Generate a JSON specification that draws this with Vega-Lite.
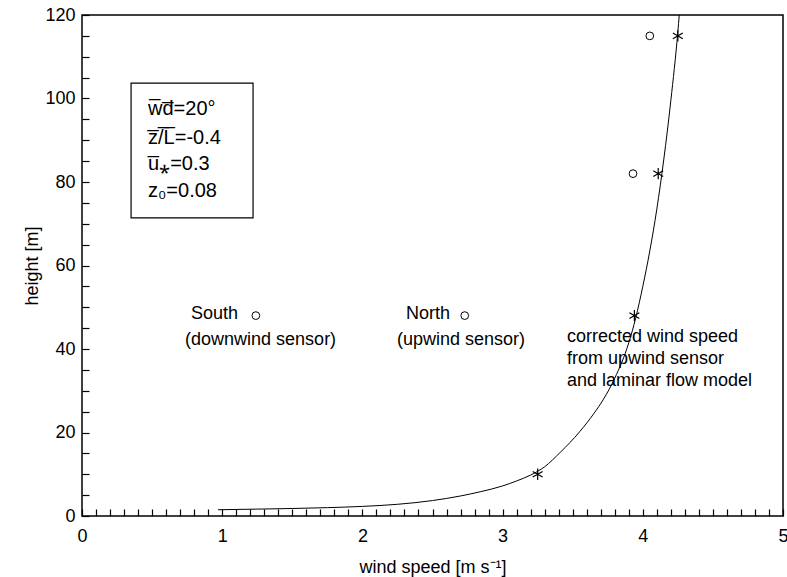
{
  "$schema": "https://vega.github.io/schema/vega-lite/v6.json",
  "width": 701,
  "height": 501,
  "autosize": {"type": "none"},
  "padding": {"left": 82, "top": 15, "right": 4, "bottom": 61},
  "background": "white",
  "config": {
    "view": {"stroke": "black", "strokeWidth": 1.5}
  },
  "datasets": {
    "curve": [
      {"u": 0.97, "z": 1.5},
      {"u": 1.25, "z": 1.65},
      {"u": 1.5, "z": 1.8},
      {"u": 1.75, "z": 2.0},
      {"u": 2.0, "z": 2.3},
      {"u": 2.25, "z": 2.8},
      {"u": 2.5, "z": 3.7},
      {"u": 2.7, "z": 4.8},
      {"u": 2.84, "z": 5.8},
      {"u": 3.0, "z": 7.2},
      {"u": 3.1, "z": 8.4},
      {"u": 3.2, "z": 9.8},
      {"u": 3.3, "z": 11.8},
      {"u": 3.41, "z": 15.2},
      {"u": 3.55, "z": 20.2},
      {"u": 3.65, "z": 24.5},
      {"u": 3.72, "z": 28.0},
      {"u": 3.8, "z": 33.0},
      {"u": 3.9, "z": 41.5},
      {"u": 3.95, "z": 47.5},
      {"u": 4.0, "z": 55.0},
      {"u": 4.05, "z": 63.5},
      {"u": 4.1, "z": 73.5},
      {"u": 4.15, "z": 85.5},
      {"u": 4.2, "z": 99.5},
      {"u": 4.25, "z": 116.0},
      {"u": 4.26, "z": 120.0}
    ],
    "sensors": [
      {"u": 1.24, "z": 48},
      {"u": 2.73, "z": 48},
      {"u": 3.93, "z": 82},
      {"u": 4.05, "z": 115}
    ],
    "corrected": [
      {"u": 3.25, "z": 10},
      {"u": 3.94, "z": 48},
      {"u": 4.11, "z": 82},
      {"u": 4.25, "z": 115}
    ],
    "box": [{"u": 0.35, "u2": 1.22, "z": 71.4, "z2": 103.7}],
    "params": [
      {"u": 0.471, "z": 97.4, "text": "w̅d̅=20°"},
      {"u": 0.471, "z": 90.6, "text": "z̅/̅L̅=-0.4"},
      {"u": 0.471, "z": 84.4, "text": "u̅⁎=0.3"},
      {"u": 0.471, "z": 77.9, "text": "z₀=0.08"}
    ],
    "labels": [
      {"u": 0.777, "z": 48.4, "text": "South"},
      {"u": 0.735, "z": 42.2, "text": "(downwind sensor)"},
      {"u": 2.311, "z": 48.4, "text": "North"},
      {"u": 2.247, "z": 42.2, "text": "(upwind sensor)"},
      {"u": 3.459, "z": 42.9, "text": "corrected wind speed"},
      {"u": 3.459, "z": 37.6, "text": "from upwind sensor"},
      {"u": 3.459, "z": 32.3, "text": "and laminar flow model"}
    ]
  },
  "encoding": {
    "x": {
      "field": "u", "type": "quantitative",
      "scale": {"domain": [0, 5], "nice": false, "zero": false},
      "axis": {
        "orient": "bottom", "offset": -7, "domain": false, "grid": false, "ticks": true,
        "values": [0,0.1,0.2,0.3,0.4,0.5,0.6,0.7,0.8,0.9,1,1.1,1.2,1.3,1.4,1.5,1.6,1.7,1.8,1.9,2,2.1,2.2,2.3,2.4,2.5,2.6,2.7,2.8,2.9,3,3.1,3.2,3.3,3.4,3.5,3.6,3.7,3.8,3.9,4,4.1,4.2,4.3,4.4,4.5,4.6,4.7,4.8,4.9,5],
        "labelExpr": "abs(datum.value - round(datum.value)) < 0.001 ? '' + round(datum.value) : ''",
        "tickSize": 7, "tickColor": "black", "tickWidth": 1.2,
        "labelFont": "Liberation Sans", "labelFontSize": 18, "labelColor": "black",
        "labelPadding": 11, "labelFlush": false, "labelOverlap": false,
        "title": "wind speed [m s⁻¹]", "titleFont": "Liberation Sans", "titleFontSize": 18,
        "titleFontWeight": "normal", "titleColor": "black", "titlePadding": 13
      }
    },
    "y": {
      "field": "z", "type": "quantitative",
      "scale": {"domain": [0, 120], "nice": false, "zero": false},
      "axis": {
        "orient": "left", "offset": -7, "domain": false, "grid": false, "ticks": true,
        "values": [0,5,10,15,20,25,30,35,40,45,50,55,60,65,70,75,80,85,90,95,100,105,110,115,120],
        "labelExpr": "datum.value % 20 === 0 ? '' + datum.value : ''",
        "tickSize": 7, "tickColor": "black", "tickWidth": 1.2,
        "labelFont": "Liberation Sans", "labelFontSize": 18, "labelColor": "black",
        "labelPadding": 7, "labelFlush": false, "labelOverlap": false,
        "title": "height [m]", "titleFont": "Liberation Sans", "titleFontSize": 18,
        "titleFontWeight": "normal", "titleColor": "black", "titlePadding": 3
      }
    }
  },
  "layer": [
    {
      "data": {"name": "curve"},
      "mark": {"type": "line", "color": "black", "strokeWidth": 1, "interpolate": "monotone", "clip": true}
    },
    {
      "data": {"name": "sensors"},
      "mark": {"type": "point", "shape": "circle", "filled": false, "color": "black", "strokeWidth": 1, "size": 60, "opacity": 1}
    },
    {
      "data": {"name": "corrected"},
      "mark": {"type": "point", "shape": "M0,-1L0,1M-0.87,-0.5L0.87,0.5M-0.87,0.5L0.87,-0.5", "filled": false, "color": "black", "strokeWidth": 1.2, "size": 130, "opacity": 1}
    },
    {
      "data": {"name": "box"},
      "mark": {"type": "rect", "fill": null, "fillOpacity": 0, "stroke": "black", "strokeWidth": 1.2},
      "encoding": {
        "x2": {"field": "u2"},
        "y2": {"field": "z2"}
      }
    },
    {
      "data": {"name": "params"},
      "mark": {"type": "text", "align": "left", "baseline": "middle", "fontSize": 20, "font": "Liberation Sans", "color": "black"},
      "encoding": {
        "text": {"field": "text"}
      }
    },
    {
      "data": {"name": "labels"},
      "mark": {"type": "text", "align": "left", "baseline": "middle", "fontSize": 18, "font": "Liberation Sans", "color": "black"},
      "encoding": {
        "text": {"field": "text"}
      }
    }
  ]
}
